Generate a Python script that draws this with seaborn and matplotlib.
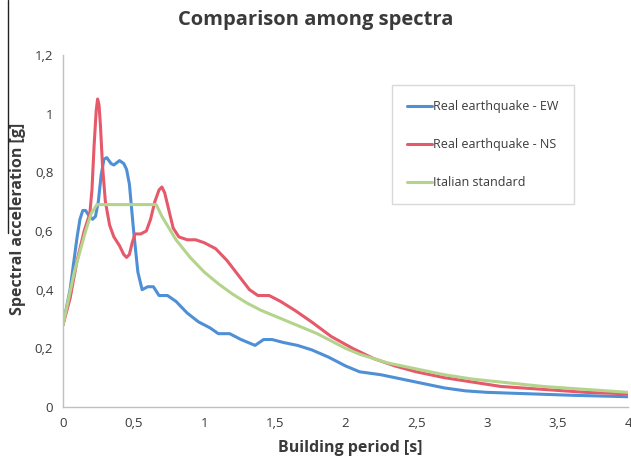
import numpy as np
import pandas as pd
import seaborn as sns
import matplotlib
matplotlib.use("Agg")
import matplotlib.pyplot as plt
from matplotlib.ticker import FuncFormatter
from matplotlib.lines import Line2D

# ---- data ----
ew_period = [0, 0.05, 0.10, 0.12, 0.14, 0.16, 0.18, 0.21, 0.23, 0.25, 0.27, 0.29, 0.31, 0.34,
             0.36, 0.40, 0.43, 0.45, 0.47, 0.50, 0.53, 0.56, 0.60, 0.64, 0.68, 0.74, 0.80, 0.88,
             0.96, 1.04, 1.10, 1.18, 1.26, 1.36, 1.42, 1.48, 1.56, 1.66, 1.76, 1.88, 2.00, 2.10,
             2.25, 2.40, 2.55, 2.70, 2.85, 3.00, 3.30, 3.60, 4.00]
ew_acc = [0.28, 0.40, 0.58, 0.64, 0.67, 0.67, 0.655, 0.64, 0.65, 0.70, 0.79, 0.845, 0.85, 0.83,
          0.825, 0.84, 0.83, 0.81, 0.76, 0.60, 0.46, 0.40, 0.41, 0.41, 0.38, 0.38, 0.36, 0.32,
          0.29, 0.27, 0.25, 0.25, 0.23, 0.21, 0.23, 0.23, 0.22, 0.21, 0.195, 0.17, 0.14, 0.12,
          0.11, 0.095, 0.08, 0.065, 0.055, 0.05, 0.045, 0.04, 0.035]

ns_period = [0, 0.05, 0.10, 0.15, 0.19, 0.205, 0.22, 0.235, 0.245, 0.255, 0.265, 0.28, 0.30,
             0.33, 0.36, 0.40, 0.43, 0.45, 0.47, 0.49, 0.51, 0.55, 0.59, 0.62, 0.65, 0.68, 0.70,
             0.72, 0.75, 0.78, 0.82, 0.88, 0.94, 1.00, 1.08, 1.16, 1.24, 1.32, 1.38, 1.46, 1.54,
             1.64, 1.76, 1.90, 2.05, 2.20, 2.35, 2.50, 2.70, 2.90, 3.10, 3.40, 3.70, 4.00]
ns_acc = [0.28, 0.37, 0.50, 0.60, 0.66, 0.74, 0.89, 1.01, 1.05, 1.03, 0.96, 0.82, 0.70,
          0.62, 0.58, 0.55, 0.52, 0.51, 0.52, 0.56, 0.59, 0.59, 0.60, 0.64, 0.70, 0.74, 0.75,
          0.73, 0.67, 0.61, 0.58, 0.57, 0.57, 0.56, 0.54, 0.50, 0.45, 0.40, 0.38, 0.38, 0.36,
          0.33, 0.29, 0.24, 0.20, 0.165, 0.14, 0.12, 0.10, 0.085, 0.07, 0.06, 0.05, 0.045]

it_period = [0, 0.04, 0.08, 0.12, 0.16, 0.20, 0.24, 0.30, 0.40, 0.50, 0.60, 0.66, 0.70, 0.75,
             0.80, 0.90, 1.00, 1.10, 1.20, 1.30, 1.40, 1.50, 1.60, 1.70, 1.80, 1.90, 2.00, 2.10,
             2.20, 2.30, 2.40, 2.50, 2.70, 2.90, 3.10, 3.40, 3.70, 4.00]
it_acc = [0.28, 0.37, 0.46, 0.53, 0.60, 0.66, 0.69, 0.69, 0.69, 0.69, 0.69, 0.69, 0.65, 0.61,
          0.57, 0.51, 0.46, 0.42, 0.385, 0.355, 0.33, 0.31, 0.29, 0.27, 0.25, 0.225, 0.20, 0.18,
          0.165, 0.15, 0.14, 0.13, 0.11, 0.095, 0.085, 0.07, 0.06, 0.05]

series_names = ["Real earthquake - EW", "Real earthquake - NS", "Italian standard"]
series_colors = ["#4f8fd6", "#e5596b", "#b4d48c"]

x_ticks = [0, 0.5, 1, 1.5, 2, 2.5, 3, 3.5, 4]
y_ticks = [0, 0.2, 0.4, 0.6, 0.8, 1.0, 1.2]

df = pd.concat([
    pd.DataFrame({"period": ew_period, "acc": ew_acc, "series": series_names[0]}),
    pd.DataFrame({"period": ns_period, "acc": ns_acc, "series": series_names[1]}),
    pd.DataFrame({"period": it_period, "acc": it_acc, "series": series_names[2]}),
], ignore_index=True)

sns.set_style("white")
plt.rcParams["font.family"] = ["Open Sans", "DejaVu Sans"]

TXT = "#3a3a3a"
fig = plt.figure(figsize=(6.31, 4.62), dpi=100)
ax = fig.add_axes([63 / 631, 1 - 407 / 462, (628 - 63) / 631, (407 - 55) / 462])

sns.lineplot(data=df, x="period", y="acc", hue="series", hue_order=series_names,
             palette=dict(zip(series_names, series_colors)), sort=False,
             linewidth=2.2, ax=ax, estimator=None)

ax.set_xlim(0, 4)
ax.set_ylim(0, 1.2)
ax.set_xticks(x_ticks)
ax.set_yticks(y_ticks)
fmt = FuncFormatter(lambda v, p: ("%g" % round(v, 2)).replace(".", ","))
ax.xaxis.set_major_formatter(fmt)
ax.yaxis.set_major_formatter(fmt)

for s in ["top", "right"]:
    ax.spines[s].set_visible(False)
for s in ["left", "bottom"]:
    ax.spines[s].set_color("#bfbfbf")
    ax.spines[s].set_linewidth(1.0)
ax.tick_params(axis="both", which="major", length=4, width=1.0, color="#bfbfbf",
               labelsize=9.5, labelcolor=TXT, direction="out")
ax.tick_params(axis="x", pad=3)
ax.tick_params(axis="y", pad=3)

ax.set_xlabel("Building period [s]", fontsize=11.5, fontweight="bold", color=TXT)
ax.set_ylabel("Spectral acceleration [g]", fontsize=11.5, fontweight="bold", color=TXT)
ax.xaxis.set_label_coords((350 - 63) / 565, (407 - 448) / 352)
ax.yaxis.set_label_coords((18 - 63) / 565, (407 - 219) / 352)
for lab in (ax.xaxis.label, ax.yaxis.label):
    lab.set_va("center")
    lab.set_ha("center")

fig.text(316 / 631, 1 - 20 / 462, "Comparison among spectra", ha="center", va="center",
         fontsize=14.5, fontweight="bold", color=TXT)

leg = ax.legend(loc="upper left", bbox_to_anchor=((392 - 63) / 565, 1 - (85 - 55) / 352),
                frameon=True, fancybox=False, fontsize=9, handlelength=2.0,
                handletextpad=0.1, labelspacing=2.0, borderpad=1.2, borderaxespad=0)
leg.get_frame().set_edgecolor("#d0d0d0")
leg.get_frame().set_linewidth(1.0)
for t in leg.get_texts():
    t.set_color(TXT)

# thin dark edge line at the left of the picture
fig.add_artist(Line2D([8 / 631, 8 / 631], [1, 1 - 233 / 462], color="#222222", linewidth=1.0,
                      transform=fig.transFigure))

fig.savefig("out.png", dpi=100)
